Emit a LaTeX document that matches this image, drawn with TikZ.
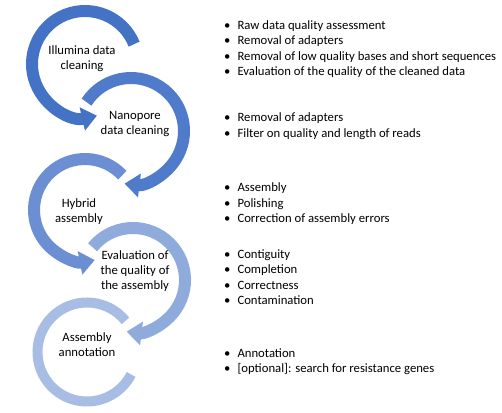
\documentclass[tikz,border=0pt]{standalone}
\usepackage{fontspec}
\setmainfont{Carlito}
\usetikzlibrary{arrows.meta}

\definecolor{blu1}{HTML}{4472C4}
\definecolor{blu2}{HTML}{4F7BCA}
\definecolor{blu3}{HTML}{6B8FD2}
\definecolor{blu4}{HTML}{8EABDC}
\definecolor{blu5}{HTML}{A8BDE3}

\begin{document}
\begin{tikzpicture}[x=1pt, y=1pt,
    loopring/.style={line width=12pt},
    looptip/.style={-{Triangle[length=15pt, width=23pt]}},
    steplabel/.style={align=center, font=\fontsize{12.7}{14.8}\selectfont},
    steplist/.style={anchor=west, inner sep=0pt, font=\fontsize{12.7}{15.2}\selectfont}]
        \useasboundingbox (0,0) rectangle (502,412);

        % Centri degli anelli, dall'alto verso il basso
        \coordinate (illumina) at (85,348);
        \coordinate (nanopore) at (131,281);
        \coordinate (hybrid) at (85,202);
        \coordinate (evaluation) at (133,132);
        \coordinate (annotation) at (87,60);

        % Anelli con la freccia (senso alternato)
        \draw[loopring, looptip, blu1] ([shift={(22:53)}]illumina) arc[start angle=22, end angle=283, radius=53];
        \draw[loopring, looptip, blu2] ([shift={(147:53)}]nanopore) arc[start angle=147, end angle=-97, radius=53];
        \draw[loopring, looptip, blu3] ([shift={(43:51)}]hybrid) arc[start angle=43, end angle=281, radius=51];
        \draw[loopring, looptip, blu4] ([shift={(141:52)}]evaluation) arc[start angle=141, end angle=-97, radius=52];
        % Ultimo anello: niente freccia
        \draw[loopring, line width=10pt, blu5] ([shift={(39:49.5)}]annotation) arc[start angle=39, end angle=333, radius=49.5];

        % Etichette dentro gli anelli
        \node[steplabel] (illuminatext) at (82,353) {Illumina data\\cleaning};
        \node[steplabel] (nanoporetext) at (135,288) {Nanopore\\data cleaning};
        \node[steplabel] (hybridtext) at (79,200) {Hybrid\\assembly};
        \node[steplabel] (evaluationtext) at (135,141) {Evaluation of\\the quality of\\the assembly};
        \node[steplabel] (annotationtext) at (87,67) {Assembly\\annotation};

        % Elenchi puntati a destra
        \node[steplist] (illuminalist) at (224,362.5) {\begin{tabular}{@{}l@{\hspace{7pt}}l@{}}
            \textbullet & Raw data quality assessment\\
            \textbullet & Removal of adapters\\
            \textbullet & Removal of low quality bases and short sequences\\
            \textbullet & Evaluation of the quality of the cleaned data
        \end{tabular}};
        \node[steplist] (nanoporelist) at (224,285.5) {\begin{tabular}{@{}l@{\hspace{7pt}}l@{}}
            \textbullet & Removal of adapters\\
            \textbullet & Filter on quality and length of reads
        \end{tabular}};
        \node[steplist] (hybridlist) at (224,208) {\begin{tabular}{@{}l@{\hspace{7pt}}l@{}}
            \textbullet & Assembly\\
            \textbullet & Polishing\\
            \textbullet & Correction of assembly errors
        \end{tabular}};
        \node[steplist] (evaluationlist) at (224,133.5) {\begin{tabular}{@{}l@{\hspace{7pt}}l@{}}
            \textbullet & Contiguity\\
            \textbullet & Completion\\
            \textbullet & Correctness\\
            \textbullet & Contamination
        \end{tabular}};
        \node[steplist] (annotationlist) at (224,50) {\begin{tabular}{@{}l@{\hspace{7pt}}l@{}}
            \textbullet & Annotation\\
            \textbullet & [optional]: search for resistance genes
        \end{tabular}};
    \end{tikzpicture}
\end{document}
